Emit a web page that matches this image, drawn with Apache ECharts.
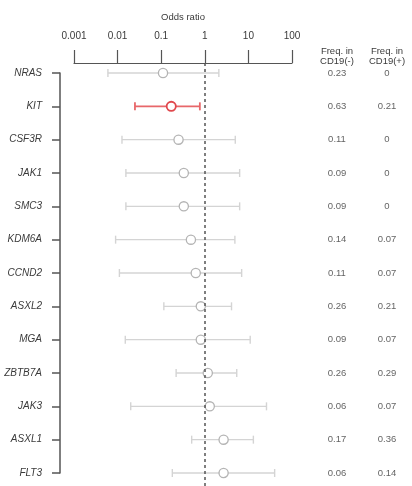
<!DOCTYPE html>
<html><head><meta charset="utf-8">
<script src="https://cdn.jsdelivr.net/npm/echarts@6/dist/echarts.min.js"></script>
<style>html,body{margin:0;padding:0;background:#fff}#c{width:412px;height:486px}</style>
</head><body><div id="c"></div>
<script>
const genes = ['NRAS','KIT','CSF3R','JAK1','SMC3','KDM6A','CCND2','ASXL2','MGA','ZBTB7A','JAK3','ASXL1','FLT3'];
const orEst = [0.11,0.17,0.25,0.33,0.33,0.48,0.62,0.81,0.81,1.17,1.3,2.7,2.7];
const ciLow = [0.006,0.025,0.0126,0.0155,0.0155,0.009,0.011,0.115,0.015,0.22,0.02,0.5,0.18];
const ciHigh = [2.1,0.77,5.0,6.3,6.3,4.9,7.0,4.1,11,5.4,26,13,40];
const significant = [false,true,false,false,false,false,false,false,false,false,false,false,false];
const freqNeg = [0.23,0.63,0.11,0.09,0.09,0.14,0.11,0.26,0.09,0.26,0.06,0.17,0.06];
const freqPos = [0,0.21,0,0,0,0.07,0.07,0.21,0.07,0.29,0.07,0.36,0.14];
const oddsTicks = [0.001,0.01,0.1,1,10,100];
const freqHeaders = ['Freq. in\nCD19(-)','Freq. in\nCD19(+)'];

const font = 'Liberation Sans, Arial, sans-serif';
const txt = '#3a3a3a';
const chart = echarts.init(document.getElementById('c'), null, {renderer:'canvas'});

const ciData = genes.map((g,i)=>[ciLow[i], orEst[i], ciHigh[i], i, significant[i]?1:0]);
const freqData = [];
genes.forEach((g,i)=>{ freqData.push([0,i,freqNeg[i]]); freqData.push([1,i,freqPos[i]]); });

chart.setOption({
  animation:false,
  grid:[
    {left:74, width:218, top:63, height:423},
    {left:60, width:10, top:73, height:400},
    {left:312, width:102, top:70, height:416}
  ],
  xAxis:[
    {gridIndex:0, type:'log', logBase:10, min:0.001, max:100, position:'top',
     name:'Odds ratio', nameLocation:'middle', nameGap:41,
     nameTextStyle:{fontFamily:font, fontSize:9.5, color:txt},
     axisLine:{show:true, onZero:false, lineStyle:{color:'#555', width:1.2}},
     axisTick:{show:true, inside:false, length:13, lineStyle:{color:'#555', width:1.2}},
     axisLabel:{margin:22, fontFamily:font, fontSize:10, color:txt,
       formatter:v=>{const t=oddsTicks.find(k=>Math.abs(Math.log10(k)-Math.log10(v))<1e-6);return t===undefined?'':String(t);}},
     splitLine:{show:false}, minorTick:{show:false}},
    {gridIndex:1, type:'value', show:false},
    {gridIndex:2, type:'category', data:freqHeaders, position:'top',
     axisLine:{show:false, onZero:false}, axisTick:{show:false},
     axisLabel:{margin:4, fontFamily:font, fontSize:9.5, color:txt, lineHeight:10}}
  ],
  yAxis:[
    {gridIndex:0, type:'value', min:-0.3, max:12.39, inverse:true, show:false},
    {gridIndex:1, type:'category', data:genes, inverse:true, boundaryGap:false,
     axisLine:{show:true, onZero:false, lineStyle:{color:'#555', width:1.5}},
     axisTick:{show:true, length:8, lineStyle:{color:'#555', width:1.5}},
     axisLabel:{margin:18, fontFamily:font, fontSize:10, fontStyle:'italic', color:txt}},
    {gridIndex:2, type:'value', min:-0.09, max:12.39, inverse:true, show:false}
  ],
  series:[
    {type:'custom', xAxisIndex:0, yAxisIndex:0, data:ciData, clip:false,
     renderItem:(params, api)=>{
       const y = api.value(3);
       const sig = api.value(4)===1;
       const pL = api.coord([api.value(0), y]);
       const pE = api.coord([api.value(1), y]);
       const pH = api.coord([api.value(2), y]);
       const lc = sig ? '#e8676a' : '#d4d4d4';
       const cc = sig ? '#e0484d' : '#b4b4b4';
       const lw = sig ? 1.8 : 1.4;
       const cap = 4;
       return {type:'group', children:[
         {type:'line', shape:{x1:pL[0],y1:pL[1],x2:pH[0],y2:pH[1]}, style:{stroke:lc, lineWidth:lw}},
         {type:'line', shape:{x1:pL[0],y1:pL[1]-cap,x2:pL[0],y2:pL[1]+cap}, style:{stroke:lc, lineWidth:lw}},
         {type:'line', shape:{x1:pH[0],y1:pH[1]-cap,x2:pH[0],y2:pH[1]+cap}, style:{stroke:lc, lineWidth:lw}},
         {type:'circle', shape:{cx:pE[0], cy:pE[1], r:4.6}, style:{fill:'#fff', stroke:cc, lineWidth:sig?1.8:1.3}}
       ]};
     },
     markLine:{silent:true, symbol:'none', label:{show:false},
       lineStyle:{color:'#555', type:[3,3], width:1.5},
       data:[{xAxis:1}]}
    },
    {type:'scatter', xAxisIndex:2, yAxisIndex:2, data:freqData, symbolSize:0,
     label:{show:true, position:'inside', fontFamily:font, fontSize:9.5, color:txt,
       formatter:p=>String(p.value[2])}}
  ]
});
</script></body></html>
